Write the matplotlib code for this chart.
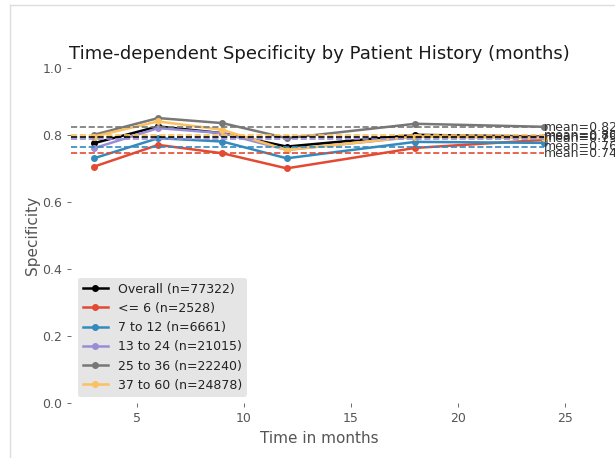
import numpy as np
import matplotlib
matplotlib.use("Agg")
import matplotlib.pyplot as plt
from matplotlib.lines import Line2D

# months at which specificity was evaluated
months = [3, 6, 9, 12, 18, 24]

labels = ["Overall (n=77322)", "<= 6 (n=2528)", "7 to 12 (n=6661)",
          "13 to 24 (n=21015)", "25 to 36 (n=22240)", "37 to 60 (n=24878)"]
colors = ["black", "#E24A33", "#348ABD", "#988ED5", "#777777", "#FBC15E"]

overall = [0.775, 0.825, 0.805, 0.765, 0.800, 0.795]
le_6 = [0.705, 0.770, 0.745, 0.700, 0.761, 0.785]
m7_12 = [0.730, 0.790, 0.780, 0.730, 0.779, 0.776]
m13_24 = [0.760, 0.820, 0.805, 0.755, 0.794, 0.794]
m25_36 = [0.800, 0.850, 0.835, 0.790, 0.833, 0.824]
m37_60 = [0.795, 0.840, 0.815, 0.755, 0.795, 0.790]

series = [overall, le_6, m7_12, m13_24, m25_36, m37_60]

fig = plt.figure(figsize=(6.15, 4.58), dpi=100)
ax = fig.add_axes([0.116, 0.12, 0.805, 0.732])

for vals, lab, col in zip(series, labels, colors):
    ax.plot(months, vals, color=col, marker="o", markersize=4, linewidth=1.8, label=lab)

ax.set_xlim(1.95, 25.05)
ax.set_ylim(0, 1.0)

# dashed mean lines with text at the right
for vals, col in zip(series, colors):
    m = np.mean(vals)
    ax.hlines(m, 1.95, months[-1], colors=col, linestyles="--", linewidth=1.2)
    ax.text(months[-1], m, "mean=%.2f" % m, va="center", ha="left",
            fontsize=9, color="#333333", clip_on=False)

for s in ax.spines.values():
    s.set_visible(False)
ax.set_facecolor("white")
ax.tick_params(colors="#555555", labelsize=9, length=3, width=0.6, direction="out")
ax.set_xticks([5, 10, 15, 20, 25])
ax.set_yticks([0.0, 0.2, 0.4, 0.6, 0.8, 1.0])

ax.set_title("Time-dependent Specificity by Patient History (months)", fontsize=13.0, color="#1a1a1a")
ax.set_xlabel("Time in months", fontsize=11, color="#555555")
ax.set_ylabel("Specificity", fontsize=11, color="#555555", labelpad=2)

leg = ax.legend(loc="lower left", fontsize=9, facecolor="#E5E5E5", edgecolor="none",
                framealpha=1.0, fancybox=True)
for t in leg.get_texts():
    t.set_color("#222222")

# light notebook-style border on the left and top
fig.add_artist(Line2D([0.017, 0.017], [0, 0.99], color="#dddddd", linewidth=1))
fig.add_artist(Line2D([0.017, 1.0], [0.99, 0.99], color="#dddddd", linewidth=1))

fig.savefig("out.png", dpi=100)
